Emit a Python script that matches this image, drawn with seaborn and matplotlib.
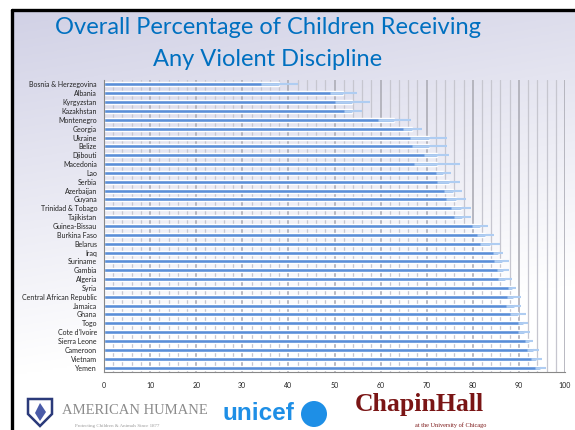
import numpy as np
import pandas as pd
import matplotlib
matplotlib.use("Agg")
import matplotlib.pyplot as plt
import seaborn as sns
from matplotlib.patches import Polygon, Circle

# ---------------- data ----------------
countries = ["Bosnia & Herzegovina", "Albania", "Kyrgyzstan", "Kazakhstan", "Montenegro",
             "Georgia", "Ukraine", "Belize", "Djibouti", "Macedonia", "Lao", "Serbia",
             "Azerbaijan", "Guyana", "Trinidad & Tobago", "Tajikistan", "Guinea-Bissau",
             "Burkina Faso", "Belarus", "Iraq", "Suriname", "Gambia", "Algeria", "Syria",
             "Central African Republic", "Jamaica", "Ghana", "Togo", "Cote d'Ivoire",
             "Sierra Leone", "Cameroon", "Vietnam", "Yemen"]
values = [38.0, 51.8, 53.7, 53.9, 63.0, 66.9, 70.4, 70.5, 72.2, 72.2, 73.5, 74.8,
          75.8, 76.3, 77.4, 77.7, 81.6, 82.6, 83.7, 85.5, 86.3, 86.5, 87.0, 88.5,
          88.8, 88.9, 89.8, 90.8, 91.0, 92.1, 93.0, 93.8, 94.6]
lower = [34.1, 49.0, 50.1, 52.1, 59.4, 64.9, 66.4, 66.8, 69.4, 67.2, 72.0, 72.2,
         73.8, 74.2, 75.3, 75.9, 79.8, 80.9, 81.6, 84.4, 84.5, 85.2, 85.5, 87.6,
         87.4, 87.2, 88.1, 89.8, 89.7, 91.4, 91.8, 92.6, 93.6]
upper = [42.0, 54.8, 57.7, 56.0, 66.6, 69.0, 74.3, 74.3, 74.8, 77.2, 75.3, 77.2,
         77.7, 78.5, 79.6, 79.6, 83.3, 84.6, 85.9, 86.6, 87.9, 87.9, 88.5, 89.4,
         90.4, 90.4, 91.5, 92.0, 92.4, 93.0, 94.3, 95.1, 95.9]
x_ticks = list(range(0, 101, 10))
title_line1 = "Overall Percentage of Children Receiving"
title_line2 = "Any Violent Discipline"

df = pd.DataFrame({"country": countries, "value": values, "lower": lower, "upper": upper})

# ---------------- style ----------------
sns.set_theme(style="white")
plt.rcParams['font.family'] = ['Lato', 'DejaVu Sans']

W, H = 575, 430
fig = plt.figure(figsize=(5.75, 4.3), dpi=100)
fig.patch.set_facecolor("white")

# background slide
bg = fig.add_axes([0, 0, 1, 1], zorder=-10)
bg.set_xlim(0, W)
bg.set_ylim(H, 0)
bg.axis("off")
yy = np.linspace(0, 1, 200)[:, None]
xx = np.linspace(0, 1, 200)[None, :]
t = np.clip(yy * 1.15 + xx * 0.25, 0, 1)
top = np.array([0.82, 0.82, 0.90])
bot = np.array([1.0, 1.0, 1.0])
grad = top[None, None, :] * (1 - t[..., None]) + bot[None, None, :] * t[..., None]
bg.imshow(grad, extent=(12, W, H, 10), aspect="auto", zorder=0)
bg.plot([12, 12], [10, H], color="black", lw=2.4, zorder=2)
bg.plot([12, W], [10, 10], color="black", lw=2.4, zorder=2)

# title
fig.text(268 / W, 1 - 27 / H, title_line1, ha="center", va="center",
         color="#0070C0", fontsize=17)
fig.text(268 / W, 1 - 59 / H, title_line2, ha="center", va="center",
         color="#0070C0", fontsize=17)

# ---------------- chart ----------------
ax = fig.add_axes([104 / W, 1 - 372 / H, (565 - 104) / W, (372 - 80) / H])
ax.patch.set_alpha(0)
sns.barplot(data=df, x="value", y="country", color="#5A8ED8", saturation=1,
            width=0.45, errorbar=None, ax=ax, zorder=2)

pos = np.arange(len(countries))
ax.hlines(pos, df["lower"], df["value"], color="#AFCDF2", lw=2.0, zorder=3)
ax.hlines(pos, df["value"], df["upper"], color="#AFCDF2", lw=1.5, zorder=3)

ax.set_xlim(0, 100)
ax.set_ylim(len(countries) - 0.5, -0.5)
ax.set_xticks(x_ticks)
ax.set_xticks(np.arange(0, 101, 2), minor=True)
ax.grid(which="minor", axis="x", color="#C6C6CF", lw=0.9, zorder=0)
ax.grid(which="major", axis="x", color="#ADADB6", lw=1.2, zorder=0)
ax.set_axisbelow(True)
ax.set_yticks(pos)
ax.set_yticks(np.arange(-0.5, len(countries), 1), minor=True)
ax.tick_params(axis="x", which="major", length=3, color="#888888", labelsize=5,
               labelcolor="#222222", pad=4)
ax.tick_params(axis="x", which="minor", length=0)
ax.tick_params(axis="y", which="major", length=0, labelsize=5, labelcolor="#222222", pad=5)
ax.tick_params(axis="y", which="minor", length=3, color="#888888")
ax.set_xlabel("")
ax.set_ylabel("")
for s in ["top", "right"]:
    ax.spines[s].set_visible(False)
for s in ["left", "bottom"]:
    ax.spines[s].set_color("#888888")
    ax.spines[s].set_linewidth(0.8)

# ---------------- logos (as text) ----------------
shield = Polygon([[28, 399], [52, 399], [52, 414], [40, 426], [28, 414]], closed=True,
                 facecolor="white", edgecolor="#2B3A7A", lw=1.8, zorder=3)
bg.add_patch(shield)
flame = Polygon([[40, 403], [46, 412], [40, 421], [35, 413]], closed=True,
                facecolor="#4A5BA8", edgecolor="none", zorder=4)
bg.add_patch(flame)
bg.text(62, 411, "AMERICAN HUMANE", color="#8C8C8C", fontsize=10.5,
        family=["Liberation Serif"], ha="left", va="center", zorder=4)
bg.text(75, 426, "Protecting Children & Animals Since 1877", color="#9A9A9A",
        fontsize=3.5, family=["Liberation Serif"], ha="left", va="center", zorder=4)

bg.text(222, 414, "unicef", color="#1E8FE6", fontsize=17.5, fontweight="bold",
        family=["Liberation Sans"], ha="left", va="center", zorder=4)
bg.add_patch(Circle((314, 414), 13, facecolor="#1E8FE6", edgecolor="none", zorder=4))

bg.text(355, 405, "ChapinHall", color="#7A1515", fontsize=18.5, fontweight="bold",
        family=["Liberation Serif"], ha="left", va="center", zorder=4)
bg.text(415, 425, "at the University of Chicago", color="#7A1515", fontsize=4.5,
        family=["Liberation Serif"], ha="left", va="center", zorder=4)

fig.savefig("out.png", dpi=100)
